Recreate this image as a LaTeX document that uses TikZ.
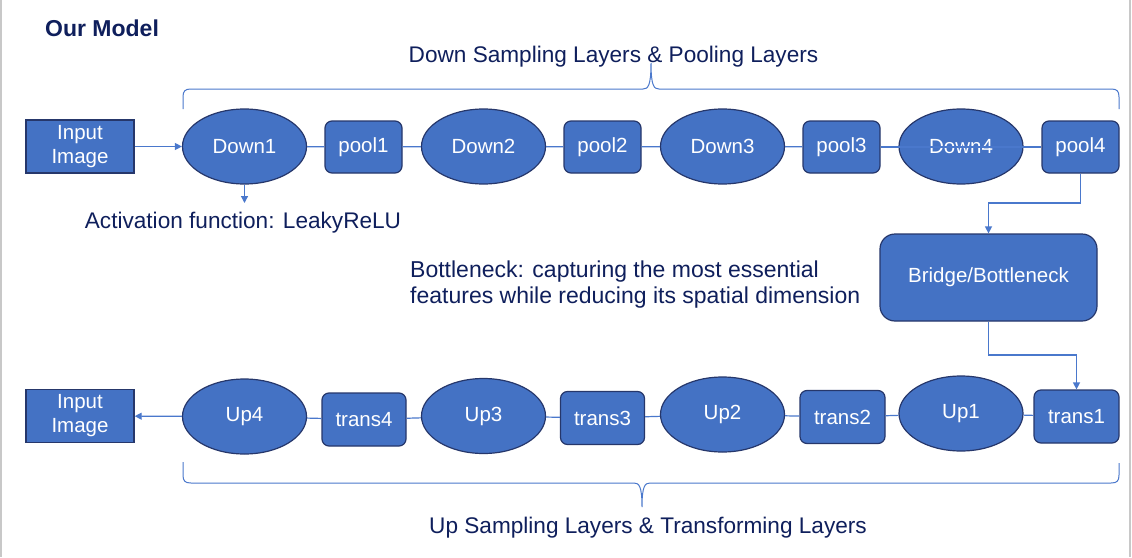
\documentclass[tikz,border=0pt]{standalone}
\usepackage{fontspec}
\setmainfont{Liberation Sans}
\usetikzlibrary{shapes.geometric,arrows.meta,calc}
\definecolor{fillb}{HTML}{4472C4}
\definecolor{edgeb}{HTML}{26376B}
\definecolor{lineb}{HTML}{4A78CC}
\definecolor{navy}{HTML}{0F1F5C}
\definecolor{framegray}{HTML}{C8C8C8}
\begin{document}
\begin{tikzpicture}[x=1pt,y=-1pt,
 nodetext/.style={text=white, font=\fontsize{20.5}{24}\selectfont},
 oval/.style={ellipse, fill=fillb, draw=edgeb, line width=1.2pt, minimum width=124pt, minimum height=75pt, inner sep=0pt, nodetext},
 box/.style={rectangle, rounded corners=7pt, fill=fillb, draw=edgeb, line width=1.2pt, minimum width=77pt, minimum height=52pt, inner sep=0pt, nodetext},
 imgbox/.style={rectangle, fill=fillb, draw=edgeb, line width=1.4pt, minimum width=108pt, minimum height=53pt, inner sep=0pt, align=center, nodetext},
 link/.style={draw=lineb, line width=1.2pt},
 arr/.style={link, -{Triangle[length=7pt,width=7pt]}},
 brace/.style={draw=lineb, line width=1pt},
 lbl/.style={text=navy, font=\fontsize{22.6}{26}\selectfont, inner sep=0pt},
]
\useasboundingbox (0,0) rectangle (1132,557);
\fill[white] (0,0) rectangle (1132,557);
\draw[framegray, line width=2pt] (1,0) -- (1,557);
\draw[framegray, line width=2pt] (1130,0) -- (1130,557);

% labels
\node[lbl, font=\bfseries\fontsize{23}{26}\selectfont, anchor=base west] (title) at (45,36) {Our Model};
\node[lbl, anchor=base] (dlab) at (613.5,62) {Down Sampling Layers \& Pooling Layers};
\node[lbl, anchor=base] (alab) at (243,228) {Activation function: LeakyReLU};
\node[lbl, font=\fontsize{23}{26}\selectfont, anchor=base west] (bn1) at (410,277) {Bottleneck: capturing the most essential};
\node[lbl, font=\fontsize{23}{26}\selectfont, anchor=base west] (bn2) at (410,303) {features while reducing its spatial dimension};
\node[lbl, anchor=base] (ulab) at (648,533) {Up Sampling Layers \& Transforming Layers};

% braces
\draw[brace] (183,109) -- (183,97) .. controls (183,91) and (185,89) .. (191,89) -- (643,89)
  .. controls (648,89) and (651,86) .. (651,63) .. controls (651,86) and (654,89) .. (659,89)
  -- (1111,89) .. controls (1117,89) and (1119,91) .. (1119,97) -- (1119,109);
\draw[brace] (183,462) -- (183,475) .. controls (183,481) and (185,483) .. (191,483) -- (634,483)
  .. controls (639,483) and (642,486) .. (642,507) .. controls (642,486) and (645,483) .. (650,483)
  -- (1111,483) .. controls (1117,483) and (1119,481) .. (1119,475) -- (1119,463);

% top row
\node[imgbox] (in) at (80,146.5) {Input\\Image};
\node[oval] (d1) at (244.5,146.5) {Down1};
\node[box] (p1) at (363.5,147) {pool1};
\node[oval] (d2) at (483.5,146.5) {Down2};
\node[box] (p2) at (602.5,147) {pool2};
\node[oval] (d3) at (722.5,146.5) {Down3};
\node[box] (p3) at (841.5,147) {pool3};
\node[oval] (d4) at (961,146.5) {Down4};
\node[box] (p4) at (1080.5,147) {pool4};

% bridge
\node[box, rounded corners=15pt, minimum width=217pt, minimum height=87pt] (br) at (988.5,277.5) {Bridge/Bottleneck};

% bottom row
\node[imgbox] (out) at (80,416) {Input\\Image};
\node[oval] (u4) at (244.5,416.5) {Up4};
\node[box, minimum width=84pt, minimum height=53pt] (t4) at (364,419.5) {trans4};
\node[oval] (u3) at (483.5,416) {Up3};
\node[box, minimum width=84pt, minimum height=53pt] (t3) at (602.5,418) {trans3};
\node[oval] (u2) at (722.5,414.5) {Up2};
\node[box, minimum width=85pt, minimum height=53pt] (t2) at (842.5,417) {trans2};
\node[oval] (u1) at (961,413.5) {Up1};
\node[box, minimum width=85pt, minimum height=53pt] (t1) at (1076.5,416.5) {trans1};

% connectors top
\draw[arr] (in) -- (d1);
\draw[link] (d1) -- (p1);
\draw[link] (p1) -- (d2);
\draw[link] (d2) -- (p2);
\draw[link] (p2) -- (d3);
\draw[link] (d3) -- (p3);
\draw[link] (p3) -- (p4);
\coordinate (act) at (244.5,203);
\draw[arr] (d1) -- (act);

% elbows
\coordinate (j1) at (1080.5,203);
\draw[arr] (p4) -- (j1) -| (br);
\coordinate (j2) at (988.5,355);
\draw[arr] (br) -- (j2) -| (t1);

% connectors bottom
\draw[link] (t1) -- (u1);
\draw[link] (u1) -- (t2);
\draw[link] (t2) -- (u2);
\draw[link] (u2) -- (t3);
\draw[link] (t3) -- (u3);
\draw[link] (u3) -- (t4);
\draw[link] (t4) -- (u4);
\draw[arr] (u4) -- (out);
\end{tikzpicture}
\end{document}
